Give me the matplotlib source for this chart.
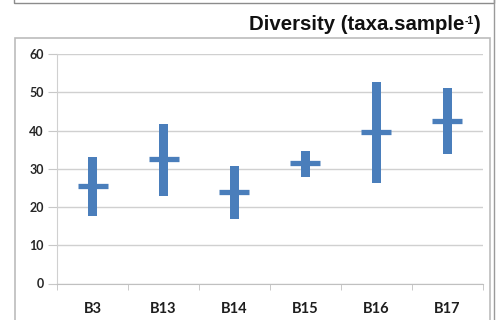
import matplotlib
matplotlib.use("Agg")
import matplotlib.pyplot as plt
from matplotlib.patches import Rectangle

# Diversity per site: range (min–max) and mean, taxa per sample
sites = ["B3", "B13", "B14", "B15", "B16", "B17"]
low = [17.6, 22.9, 16.8, 27.9, 26.4, 33.8]
high = [33.2, 41.6, 30.7, 34.6, 52.7, 51.2]
mean = [25.5, 32.6, 23.9, 31.5, 39.6, 42.5]
yticks = [0, 10, 20, 30, 40, 50, 60]

W, H, DPI = 497, 320, 100
fig = plt.figure(figsize=(W / DPI, H / DPI), dpi=DPI)


def px_rect(x0, y0, x1, y1, color, lw=1.0):
    r = Rectangle((x0 / W, 1 - y1 / H), (x1 - x0) / W, (y1 - y0) / H,
                  transform=fig.transFigure, fill=False, edgecolor=color,
                  linewidth=lw, clip_on=False)
    fig.add_artist(r)


# panel frames
px_rect(14, -10, 494, 2.5, "#8c8c8c", 1.0)
px_rect(15, 38, 490, 330, "#bcbcbc", 1.2)
fig.add_artist(plt.Line2D([494 / W, 494 / W], [0, 1], transform=fig.transFigure,
                          color="#9a9a9a", linewidth=1.0))

ax = fig.add_axes([57 / W, 1 - 283.5 / H, (483 - 57) / W, (283.5 - 54) / H])

blue = "#4a7ebb"
x = list(range(len(sites)))
heights = [h - l for h, l in zip(high, low)]
ax.bar(x, heights, bottom=low, width=0.14, color=blue, zorder=3)
ax.plot(x, mean, linestyle="none", marker="_", markersize=21,
        markeredgewidth=3.8, color=blue, zorder=4)

ax.set_xlim(-0.5, len(sites) - 0.5)
ax.set_ylim(0, 60)
ax.set_yticks(yticks)
ax.set_yticklabels([str(v) for v in yticks], fontsize=9, fontweight="bold",
                   color="#262626", family="Lato")
ax.set_xticks(x)
ax.set_xticklabels(sites, fontsize=10.5, fontweight="bold", color="#1e1e1e",
                   family="Lato")
ax.set_xticks([i - 0.5 for i in range(len(sites) + 1)], minor=True)

ax.grid(axis="y", color="#d0d0d0", linewidth=1.0, zorder=0)
ax.set_axisbelow(True)
for s in ["top", "right"]:
    ax.spines[s].set_visible(False)
ax.spines["left"].set_color("#d0d0d0")
ax.spines["bottom"].set_color("#c0c0c0")
ax.tick_params(axis="y", length=6.5, color="#c8c8c8", pad=3)
ax.tick_params(axis="x", which="major", length=0, pad=13)
ax.tick_params(axis="x", which="minor", length=4, color="#c0c0c0")

# title assembled right to left: ")" then the small superscript, then the text
title_font = dict(fontweight="bold", family="Liberation Sans", color="#111111")
renderer = fig.canvas.get_renderer()
base_y = 1 - 30 / H
t_close = fig.text(481 / W, base_y, ")", ha="right", va="baseline",
                   fontsize=14.7, **title_font)
bb = t_close.get_window_extent(renderer)
t_sup = fig.text(bb.x0 / W - 0.5 / W, base_y + 6.5 / H, "-1", ha="right",
                 va="baseline", fontsize=7.5, **title_font)
bb2 = t_sup.get_window_extent(renderer)
fig.text(bb2.x0 / W - 0.5 / W, base_y, "Diversity (taxa.sample", ha="right",
         va="baseline", fontsize=14.7, **title_font)

fig.savefig("out.png", dpi=DPI)
